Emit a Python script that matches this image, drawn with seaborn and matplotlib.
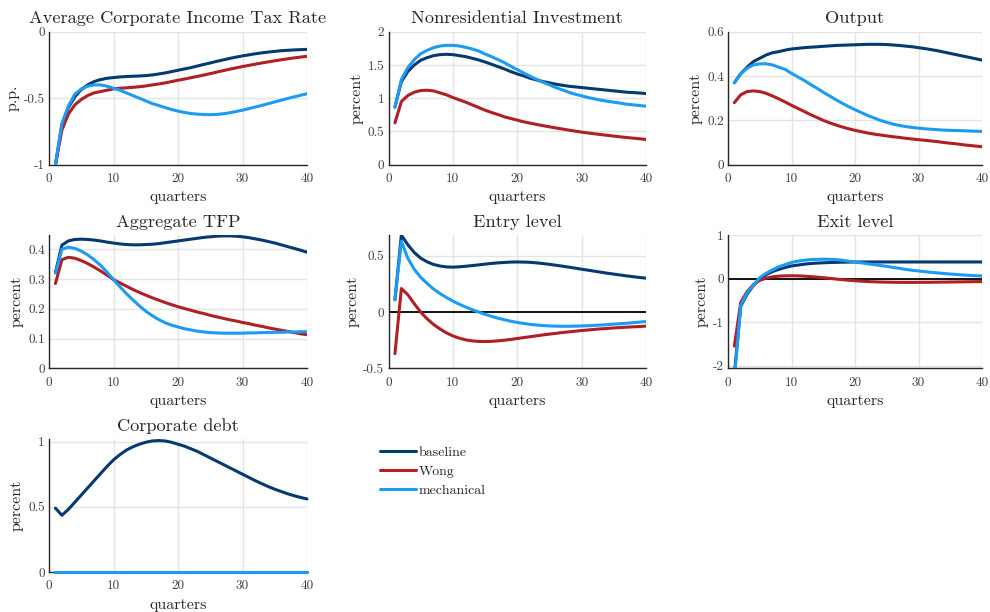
import numpy as np
import pandas as pd
import seaborn as sns
from matplotlib import pyplot as plt
from matplotlib.lines import Line2D

quarters = list(range(1, 41))
series_names = ['baseline', 'Wong', 'mechanical']

tax_baseline = [-1.0, -0.70, -0.57, -0.49, -0.435, -0.40, -0.375, -0.36, -0.35, -0.345,
                -0.34, -0.337, -0.335, -0.333, -0.33, -0.325, -0.318, -0.31, -0.30, -0.29,
                -0.28, -0.27, -0.258, -0.246, -0.235, -0.223, -0.212, -0.201, -0.191, -0.182,
                -0.174, -0.166, -0.159, -0.153, -0.148, -0.143, -0.14, -0.137, -0.135, -0.133]
tax_wong = [-1.0, -0.74, -0.62, -0.55, -0.51, -0.48, -0.46, -0.45, -0.44, -0.43,
            -0.425, -0.422, -0.418, -0.414, -0.408, -0.40, -0.393, -0.385, -0.375, -0.365,
            -0.356, -0.346, -0.336, -0.326, -0.315, -0.304, -0.293, -0.282, -0.272, -0.262,
            -0.253, -0.244, -0.235, -0.227, -0.219, -0.211, -0.204, -0.197, -0.191, -0.185]
tax_mech = [-1.0, -0.69, -0.56, -0.47, -0.43, -0.41, -0.40, -0.40, -0.41, -0.425,
            -0.44, -0.46, -0.48, -0.50, -0.52, -0.54, -0.555, -0.57, -0.585, -0.597,
            -0.607, -0.615, -0.62, -0.623, -0.624, -0.622, -0.617, -0.61, -0.60, -0.59,
            -0.578, -0.566, -0.554, -0.541, -0.528, -0.515, -0.502, -0.49, -0.478, -0.467]

inv_baseline = [0.87, 1.25, 1.40, 1.50, 1.57, 1.61, 1.64, 1.655, 1.66, 1.655,
                1.64, 1.625, 1.60, 1.575, 1.545, 1.51, 1.475, 1.44, 1.40, 1.365,
                1.335, 1.30, 1.275, 1.25, 1.23, 1.21, 1.195, 1.18, 1.17, 1.16,
                1.15, 1.14, 1.13, 1.12, 1.11, 1.10, 1.09, 1.085, 1.078, 1.07]
inv_wong = [0.63, 0.95, 1.04, 1.09, 1.115, 1.12, 1.11, 1.08, 1.05, 1.01,
            0.975, 0.94, 0.90, 0.86, 0.82, 0.785, 0.755, 0.72, 0.695, 0.67,
            0.645, 0.625, 0.605, 0.587, 0.57, 0.553, 0.537, 0.52, 0.505, 0.49,
            0.477, 0.465, 0.453, 0.441, 0.43, 0.419, 0.409, 0.399, 0.39, 0.38]
inv_mech = [0.86, 1.28, 1.46, 1.58, 1.67, 1.72, 1.76, 1.785, 1.795, 1.795,
            1.785, 1.765, 1.74, 1.71, 1.665, 1.625, 1.58, 1.535, 1.48, 1.43,
            1.38, 1.33, 1.285, 1.24, 1.20, 1.16, 1.125, 1.09, 1.06, 1.035,
            1.01, 0.99, 0.97, 0.955, 0.94, 0.925, 0.91, 0.90, 0.89, 0.88]

out_baseline = [0.37, 0.41, 0.44, 0.465, 0.48, 0.495, 0.505, 0.51, 0.517, 0.522,
                0.525, 0.528, 0.53, 0.532, 0.534, 0.536, 0.538, 0.539, 0.54, 0.541,
                0.542, 0.543, 0.543, 0.543, 0.542, 0.54, 0.538, 0.535, 0.532, 0.528,
                0.524, 0.519, 0.514, 0.508, 0.502, 0.496, 0.49, 0.484, 0.478, 0.472]
out_wong = [0.28, 0.315, 0.33, 0.333, 0.33, 0.322, 0.31, 0.297, 0.283, 0.268,
            0.254, 0.24, 0.226, 0.213, 0.20, 0.189, 0.179, 0.17, 0.162, 0.155,
            0.149, 0.143, 0.138, 0.134, 0.13, 0.126, 0.123, 0.119, 0.116, 0.113,
            0.11, 0.107, 0.104, 0.10, 0.097, 0.094, 0.09, 0.087, 0.084, 0.081]
out_mech = [0.37, 0.41, 0.435, 0.45, 0.455, 0.455, 0.45, 0.44, 0.43, 0.412,
            0.396, 0.38, 0.362, 0.345, 0.327, 0.31, 0.293, 0.277, 0.262, 0.248,
            0.235, 0.222, 0.211, 0.20, 0.191, 0.183, 0.177, 0.172, 0.168, 0.165,
            0.162, 0.16, 0.158, 0.156, 0.155, 0.154, 0.153, 0.152, 0.151, 0.15]

tfp_baseline = [0.322, 0.414, 0.428, 0.433, 0.434, 0.433, 0.431, 0.428, 0.424, 0.421,
                0.418, 0.416, 0.415, 0.415, 0.416, 0.417, 0.419, 0.422, 0.425, 0.428,
                0.431, 0.434, 0.437, 0.44, 0.442, 0.444, 0.445, 0.445, 0.444, 0.442,
                0.439, 0.435, 0.431, 0.426, 0.421, 0.415, 0.409, 0.403, 0.397, 0.39]
tfp_wong = [0.285, 0.365, 0.373, 0.37, 0.362, 0.352, 0.34, 0.327, 0.313, 0.298,
            0.287, 0.276, 0.265, 0.255, 0.246, 0.237, 0.229, 0.221, 0.214, 0.207,
            0.201, 0.195, 0.189, 0.184, 0.178, 0.173, 0.168, 0.163, 0.159, 0.154,
            0.15, 0.145, 0.141, 0.136, 0.132, 0.128, 0.124, 0.12, 0.116, 0.113]
tfp_mech = [0.32, 0.40, 0.407, 0.403, 0.394, 0.381, 0.365, 0.346, 0.323, 0.298,
            0.274, 0.251, 0.23, 0.21, 0.192, 0.177, 0.164, 0.153, 0.145, 0.139,
            0.133, 0.129, 0.125, 0.122, 0.12, 0.119, 0.118, 0.118, 0.118, 0.118,
            0.119, 0.119, 0.12, 0.12, 0.121, 0.121, 0.122, 0.122, 0.123, 0.123]

entry_baseline = [0.11, 0.685, 0.60, 0.53, 0.48, 0.447, 0.424, 0.41, 0.402, 0.40,
                  0.403, 0.408, 0.414, 0.42, 0.427, 0.433, 0.438, 0.442, 0.445, 0.446,
                  0.445, 0.443, 0.438, 0.432, 0.425, 0.417, 0.409, 0.40, 0.391, 0.382,
                  0.373, 0.364, 0.355, 0.346, 0.338, 0.33, 0.322, 0.315, 0.308, 0.302]
entry_wong = [-0.37, 0.21, 0.155, 0.075, 0.0, -0.06, -0.11, -0.15, -0.185, -0.212,
              -0.232, -0.247, -0.256, -0.261, -0.262, -0.26, -0.256, -0.25, -0.243, -0.235,
              -0.227, -0.219, -0.211, -0.203, -0.196, -0.189, -0.182, -0.176, -0.17, -0.164,
              -0.159, -0.154, -0.149, -0.145, -0.141, -0.137, -0.134, -0.131, -0.128, -0.125]
entry_mech = [0.11, 0.63, 0.48, 0.38, 0.31, 0.255, 0.205, 0.165, 0.13, 0.098,
              0.07, 0.045, 0.022, 0.0, -0.02, -0.038, -0.054, -0.068, -0.081, -0.092,
              -0.101, -0.109, -0.115, -0.12, -0.123, -0.125, -0.126, -0.126, -0.125, -0.123,
              -0.121, -0.118, -0.115, -0.111, -0.107, -0.103, -0.099, -0.094, -0.089, -0.084]

exit_baseline = [-2.2, -0.64, -0.36, -0.16, -0.01, 0.09, 0.16, 0.21, 0.255, 0.29,
                 0.31, 0.33, 0.345, 0.355, 0.362, 0.368, 0.372, 0.376, 0.378, 0.38,
                 0.38, 0.38, 0.381, 0.381, 0.381, 0.381, 0.381, 0.381, 0.381, 0.381,
                 0.381, 0.381, 0.381, 0.381, 0.381, 0.381, 0.381, 0.381, 0.381, 0.381]
exit_wong = [-1.55, -0.55, -0.30, -0.14, -0.04, 0.01, 0.04, 0.055, 0.062, 0.064,
             0.062, 0.055, 0.045, 0.033, 0.02, 0.005, -0.01, -0.025, -0.038, -0.05,
             -0.06, -0.068, -0.075, -0.08, -0.083, -0.086, -0.087, -0.088, -0.088, -0.087,
             -0.086, -0.085, -0.083, -0.081, -0.079, -0.077, -0.075, -0.073, -0.071, -0.069]
exit_mech = [-2.3, -0.62, -0.33, -0.15, 0.02, 0.12, 0.20, 0.27, 0.32, 0.37,
             0.40, 0.42, 0.435, 0.44, 0.445, 0.443, 0.435, 0.42, 0.40, 0.38,
             0.36, 0.34, 0.32, 0.30, 0.28, 0.255, 0.235, 0.21, 0.19, 0.175,
             0.158, 0.143, 0.129, 0.116, 0.104, 0.093, 0.083, 0.074, 0.066, 0.058]

debt_baseline = [0.49, 0.435, 0.48, 0.535, 0.59, 0.645, 0.70, 0.755, 0.81, 0.86,
                 0.90, 0.935, 0.96, 0.98, 0.995, 1.005, 1.008, 1.005, 0.995, 0.98,
                 0.965, 0.945, 0.925, 0.90, 0.875, 0.85, 0.825, 0.80, 0.775, 0.75,
                 0.725, 0.70, 0.677, 0.655, 0.635, 0.617, 0.60, 0.585, 0.572, 0.56]
debt_wong = [0.0] * 40
debt_mech = [0.0] * 40

panels = [
    ('Average Corporate Income Tax Rate', 'p.p.', (tax_baseline, tax_wong, tax_mech),
     (-1, 0), [-1, -0.5, 0], ['-1', '-0.5', '0'], False),
    ('Nonresidential Investment', 'percent', (inv_baseline, inv_wong, inv_mech),
     (0, 2), [0, 0.5, 1, 1.5, 2], ['0', '0.5', '1', '1.5', '2'], False),
    ('Output', 'percent', (out_baseline, out_wong, out_mech),
     (0, 0.6), [0, 0.2, 0.4, 0.6], ['0', '0.2', '0.4', '0.6'], False),
    ('Aggregate TFP', 'percent', (tfp_baseline, tfp_wong, tfp_mech),
     (0, 0.448), [0, 0.1, 0.2, 0.3, 0.4], ['0', '0.1', '0.2', '0.3', '0.4'], False),
    ('Entry level', 'percent', (entry_baseline, entry_wong, entry_mech),
     (-0.5, 0.686), [-0.5, 0, 0.5], ['-0.5', '0', '0.5'], True),
    ('Exit level', 'percent', (exit_baseline, exit_wong, exit_mech),
     (-2.06, 1), [-2, -1, 0, 1], ['-2', '-1', '0', '1'], True),
    ('Corporate debt', 'percent', (debt_baseline, debt_wong, debt_mech),
     (0, 1.02), [0, 0.5, 1], ['0', '0.5', '1'], False),
]

colors = {'baseline': '#053a70', 'Wong': '#b01f24', 'mechanical': '#1c9bf5'}

sns.set_style('white')
plt.rcParams['font.family'] = ['cmr10', 'DejaVu Serif']
plt.rcParams['mathtext.fontset'] = 'cm'
plt.rcParams['axes.unicode_minus'] = False
plt.rcParams['axes.formatter.use_mathtext'] = True

fig = plt.figure(figsize=(9.9, 6.12), dpi=100)
W, H = 990, 612
col_lr = [(49, 307), (388.5, 646), (728, 982)]
row_tb = [(31.7, 164.7), (235, 368.3), (439, 572)]

for i, (title, ylabel, vals, ylim, yt, ytl, zero_line) in enumerate(panels):
    r, c = divmod(i, 3)
    l, rr = col_lr[c]
    t, b = row_tb[r]
    ax = fig.add_axes([l / W, 1 - b / H, (rr - l) / W, (b - t) / H])
    ax.grid(True, color='#e4e4e4', linewidth=1.0)
    ax.set_axisbelow(True)
    if zero_line:
        ax.axhline(0, color='black', linewidth=1.3, zorder=1.5)
    for name, v in zip(series_names, vals):
        sns.lineplot(x=quarters, y=v, color=colors[name], linewidth=2.2, ax=ax,
                     zorder=3)
    if title == 'Corporate debt':
        for ln in ax.lines:
            ln.set_clip_on(False)
    ax.set_xlim(0, 40)
    ax.set_ylim(*ylim)
    ax.set_xticks([0, 10, 20, 30, 40])
    ax.set_xticklabels(['0', '10', '20', '30', '40'])
    ax.set_yticks(yt)
    ax.set_yticklabels(ytl)
    for s in ['top', 'right']:
        ax.spines[s].set_visible(False)
    for s in ['left', 'bottom']:
        ax.spines[s].set_color('#262626')
        ax.spines[s].set_linewidth(1.0)
        ax.spines[s].set_zorder(2.5)
    ax.tick_params(direction='in', length=2.5, width=0.8, labelsize=9.5,
                   colors='#262626', labelcolor='#404040')
    ax.tick_params(axis='x', pad=6)
    ax.tick_params(axis='y', pad=3)
    ax.set_title(title, fontsize=13.2, pad=6)
    ax.set_xlabel('quarters', fontsize=11.5, labelpad=4)
    ax.set_ylabel(ylabel, fontsize=11.5, labelpad=3)

handles = [Line2D([], [], color=colors[n], linewidth=2.2) for n in series_names]
fig.legend(handles, series_names, loc='upper left',
           bbox_to_anchor=(374 / W, 1 - 441 / H), frameon=False,
           fontsize=10, handlelength=2.6, handletextpad=0.2, labelspacing=0.45,
           borderaxespad=0)

fig.savefig('out.png', dpi=100)
